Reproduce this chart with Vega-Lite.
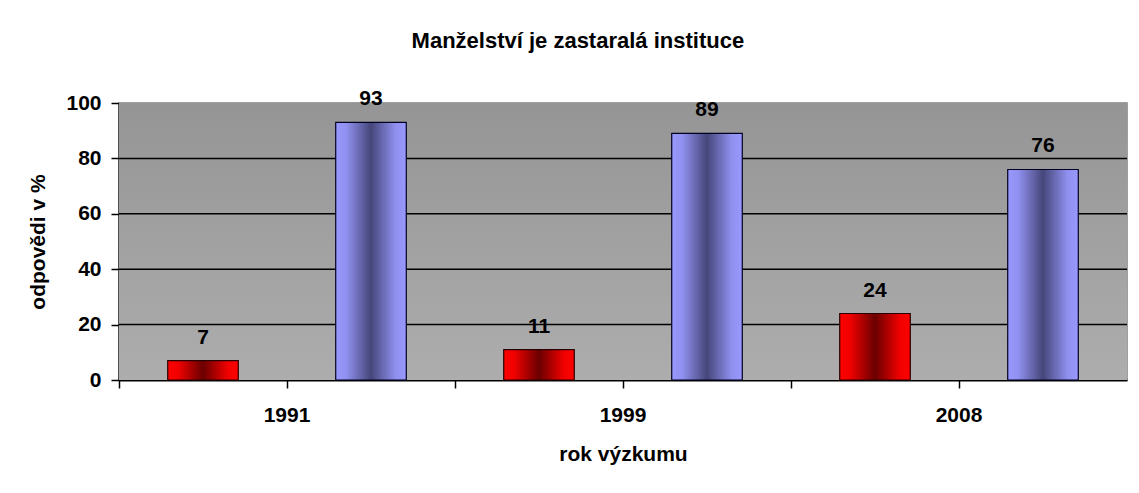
{
  "$schema": "https://vega.github.io/schema/vega-lite/v6.json",
  "autosize": {"type": "none"},
  "width": 1008,
  "height": 277,
  "padding": {"left": 119, "top": 103, "right": 12, "bottom": 113},
  "background": "white",
  "config": {
    "font": "Liberation Sans",
    "view": {"stroke": "#808080", "strokeWidth": 1.5},
    "axis": {"labelFont": "Liberation Sans", "titleFont": "Liberation Sans", "labelFontWeight": "bold", "titleFontWeight": "bold", "labelColor": "black", "titleColor": "black", "labelFontSize": 21, "titleFontSize": 21}
  },
  "title": {"text": "Manželství je zastaralá instituce", "font": "Liberation Sans", "fontSize": 22, "fontWeight": "bold", "color": "black", "anchor": "middle", "frame": "bounds", "offset": 35},
  "datasets": {
    "answers": [
      {"slot": "1991", "answer": "souhlasí", "value": 7},
      {"slot": "1991n", "answer": "nesouhlasí", "value": 93},
      {"slot": "1999", "answer": "souhlasí", "value": 11},
      {"slot": "1999n", "answer": "nesouhlasí", "value": 89},
      {"slot": "2008", "answer": "souhlasí", "value": 24},
      {"slot": "2008n", "answer": "nesouhlasí", "value": 76}
    ],
    "grid": [{"level": 20}, {"level": 40}, {"level": 60}, {"level": 80}]
  },
  "data": {"name": "answers"},
  "layer": [
    {
      "mark": {"type": "rect", "fill": {"gradient": "linear", "x1": 0, "y1": 0, "x2": 0, "y2": 1, "stops": [{"offset": 0, "color": "#959595"}, {"offset": 1, "color": "#adadad"}]}},
      "encoding": {
        "y": {"datum": 100, "type": "quantitative", "scale": {"domain": [0, 100]}},
        "y2": {"datum": 0}
      }
    },
    {
      "data": {"name": "grid"},
      "mark": {"type": "rule", "color": "black", "strokeWidth": 1.5},
      "encoding": {
        "y": {"field": "level", "type": "quantitative"}
      }
    },
    {
      "transform": [{"filter": "datum.answer == 'souhlasí'"}],
      "mark": {"type": "bar", "width": {"band": 0.42}, "stroke": "#2a0000", "strokeWidth": 1.2, "fill": {"gradient": "linear", "x1": 0, "y1": 0, "x2": 1, "y2": 0, "stops": [{"offset": 0, "color": "#ff0000"}, {"offset": 0.15, "color": "#f00000"}, {"offset": 0.5, "color": "#6a0000"}, {"offset": 0.85, "color": "#f00000"}, {"offset": 1, "color": "#ff0000"}]}},
      "encoding": {
        "x": {"field": "slot", "type": "nominal", "scale": {"domain": ["1991", "1991n", "1999", "1999n", "2008", "2008n"], "paddingInner": 0, "paddingOuter": 0},
          "title": "rok výzkumu",
          "axis": {"bandPosition": 0, "labelOffset": 84, "labelAngle": 0, "labelExpr": "length(datum.label) > 4 ? '' : datum.label", "domainColor": "black", "domainWidth": 2, "tickColor": "black", "tickWidth": 1.5, "tickSize": 8, "labelPadding": 16, "titlePadding": 18, "grid": false}},
        "y": {"field": "value", "type": "quantitative", "scale": {"domain": [0, 100]}, "title": "odpovědi v %",
          "axis": {"values": [0, 20, 40, 60, 80, 100], "domainColor": "black", "domainWidth": 2, "tickColor": "black", "tickWidth": 1.5, "tickSize": 8, "labelPadding": 10, "titlePadding": 17, "grid": false}}
      }
    },
    {
      "transform": [{"filter": "datum.answer == 'nesouhlasí'"}],
      "mark": {"type": "bar", "width": {"band": 0.42}, "stroke": "#000022", "strokeWidth": 1.2, "fill": {"gradient": "linear", "x1": 0, "y1": 0, "x2": 1, "y2": 0, "stops": [{"offset": 0, "color": "#9999ff"}, {"offset": 0.15, "color": "#9090f0"}, {"offset": 0.5, "color": "#46467a"}, {"offset": 0.85, "color": "#9090f0"}, {"offset": 1, "color": "#9999ff"}]}},
      "encoding": {
        "x": {"field": "slot", "type": "nominal"},
        "y": {"field": "value", "type": "quantitative"}
      }
    },
    {
      "mark": {"type": "text", "font": "Liberation Sans", "fontSize": 21, "fontWeight": "bold", "color": "black", "baseline": "alphabetic", "dy": -17},
      "encoding": {
        "x": {"field": "slot", "type": "nominal"},
        "y": {"field": "value", "type": "quantitative"},
        "text": {"field": "value", "type": "quantitative"}
      }
    }
  ]
}
